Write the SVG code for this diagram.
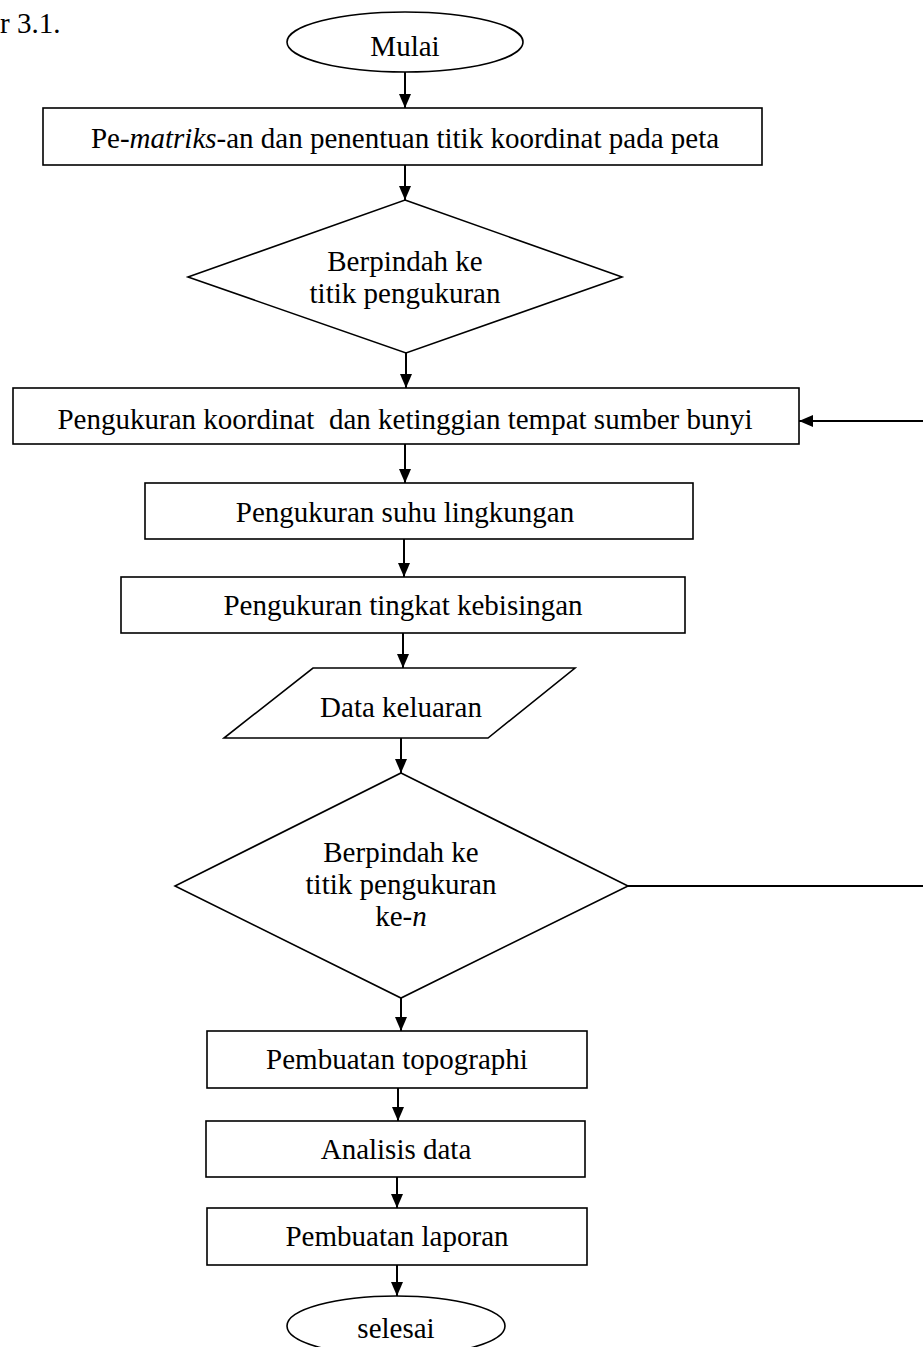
<svg xmlns="http://www.w3.org/2000/svg" width="923" height="1347" viewBox="0 0 923 1347">
<style>
.s{fill:#fff;stroke:#000;stroke-width:1.6}
.c{stroke:#000;stroke-width:2;fill:none}
text{font-family:"Liberation Serif","Times New Roman",serif;font-size:29px;fill:#000;text-anchor:middle}
</style>
<defs>
<marker id="a" markerWidth="14" markerHeight="12" refX="14" refY="6" orient="auto" markerUnits="userSpaceOnUse" viewBox="0 0 14 12">
<path d="M0,0L14,6L0,12z" fill="#000"/>
</marker>
</defs>
<rect width="923" height="1347" fill="#fff"/>
<text x="0" y="33" style="text-anchor:start">r 3.1.</text>
<g id="connectors">
<line class="c" x1="405" y1="72" x2="405" y2="108" marker-end="url(#a)"/>
<line class="c" x1="405" y1="165" x2="405" y2="200" marker-end="url(#a)"/>
<line class="c" x1="406" y1="353" x2="406" y2="388" marker-end="url(#a)"/>
<line class="c" x1="405" y1="444" x2="405" y2="483" marker-end="url(#a)"/>
<line class="c" x1="404" y1="539" x2="404" y2="577" marker-end="url(#a)"/>
<line class="c" x1="403" y1="633" x2="403" y2="668" marker-end="url(#a)"/>
<line class="c" x1="401" y1="738" x2="401" y2="773" marker-end="url(#a)"/>
<line class="c" x1="401" y1="998" x2="401" y2="1031" marker-end="url(#a)"/>
<line class="c" x1="398" y1="1088" x2="398" y2="1121" marker-end="url(#a)"/>
<line class="c" x1="397" y1="1177" x2="397" y2="1208" marker-end="url(#a)"/>
<line class="c" x1="397" y1="1265" x2="397" y2="1296" marker-end="url(#a)"/>
<line class="c" x1="628" y1="886" x2="923" y2="886"/>
<line class="c" x1="923" y1="421" x2="799" y2="421" marker-end="url(#a)"/>
</g>
<g id="mulai"><ellipse class="s" cx="405" cy="42" rx="118" ry="30"/><text x="405" y="56">Mulai</text></g>
<g id="matriks"><rect class="s" x="43" y="108" width="719" height="57"/><text x="405" y="148">Pe-<tspan font-style="italic">matriks</tspan>-an dan penentuan titik koordinat pada peta</text></g>
<g id="decision1"><polygon class="s" points="405,200 622,277 406,353 188,277"/><text x="405" y="271">Berpindah ke</text><text x="405" y="303">titik pengukuran</text></g>
<g id="koordinat"><rect class="s" x="13" y="388" width="786" height="56"/><text x="405" y="429" xml:space="preserve">Pengukuran koordinat  dan ketinggian tempat sumber bunyi</text></g>
<g id="suhu"><rect class="s" x="145" y="483" width="548" height="56"/><text x="405" y="522">Pengukuran suhu lingkungan</text></g>
<g id="kebisingan"><rect class="s" x="121" y="577" width="564" height="56"/><text x="403" y="615">Pengukuran tingkat kebisingan</text></g>
<g id="data"><polygon class="s" points="313,668 575,668 488,738 224,738"/><text x="401" y="717">Data keluaran</text></g>
<g id="decision2"><polygon class="s" points="401,773 628,886 401,998 175,886"/><text x="401" y="862">Berpindah ke</text><text x="401" y="894">titik pengukuran</text><text x="401" y="926">ke-<tspan font-style="italic">n</tspan></text></g>
<g id="topographi"><rect class="s" x="207" y="1031" width="380" height="57"/><text x="397" y="1069">Pembuatan topographi</text></g>
<g id="analisis"><rect class="s" x="206" y="1121" width="379" height="56"/><text x="396" y="1159">Analisis data</text></g>
<g id="laporan"><rect class="s" x="207" y="1208" width="380" height="57"/><text x="397" y="1246">Pembuatan laporan</text></g>
<g id="selesai"><ellipse class="s" cx="396" cy="1326" rx="109" ry="30"/><text x="396" y="1338">selesai</text></g>
</svg>
